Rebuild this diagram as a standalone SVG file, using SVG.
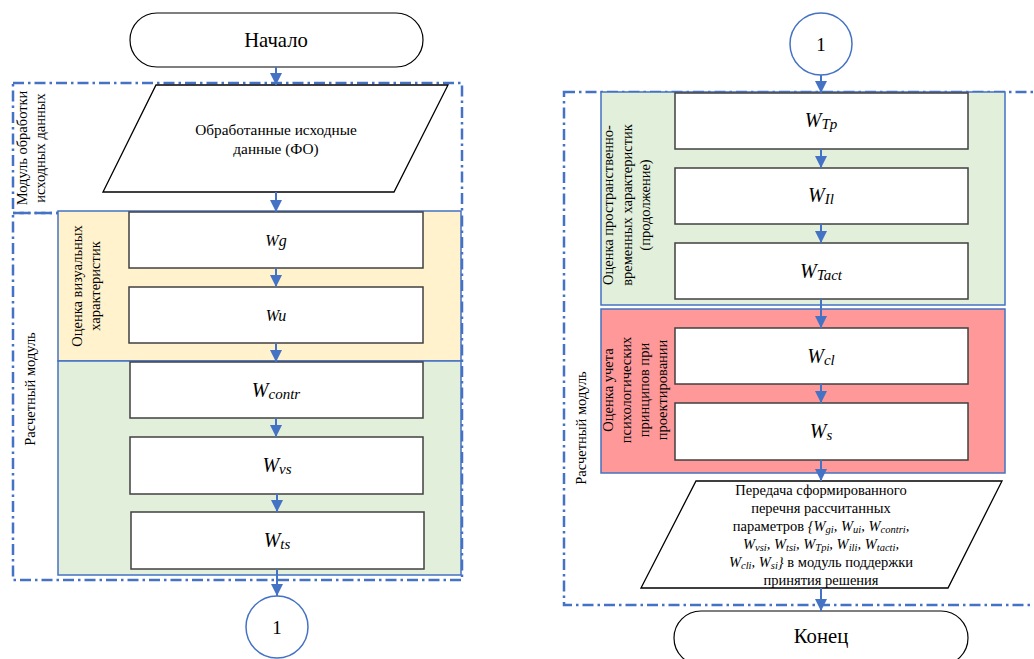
<svg xmlns="http://www.w3.org/2000/svg" width="1034" height="659" viewBox="0 0 1034 659" font-family="Liberation Serif, serif">
<style>
text{font-family:"Liberation Serif",serif;fill:#000}
.t{font-size:20.7px;text-anchor:middle}
.p{font-size:14.5px;text-anchor:middle}
.lab{font-size:14.5px;text-anchor:middle}
.w{font-size:20px;font-style:italic;text-anchor:middle}
.dash{fill:none;stroke:#4472C4;stroke-width:2.5;stroke-dasharray:11 4 2.5 4}
.grp{stroke:#4472C4;stroke-width:1.5}
.box{fill:#fff;stroke:#404040;stroke-width:1.5}
.term{fill:#fff;stroke:#000;stroke-width:1.2}
.par{fill:#fff;stroke:#000;stroke-width:1.3}
.con{fill:#fff;stroke:#4472C4;stroke-width:1.5}
.arr{stroke:#4472C4;stroke-width:2;fill:none;marker-end:url(#ah)}
</style>
<defs>
<marker id="ah" markerUnits="userSpaceOnUse" markerWidth="12" markerHeight="12" viewBox="0 0 12 12" refX="12" refY="6" orient="auto">
<path d="M0,0 L12,6 L0,12 z" fill="#4472C4"/>
</marker>
</defs>

<g id="frames">
<rect class="dash" x="13" y="83" width="449" height="130"/>
<rect class="dash" x="13" y="213" width="449" height="367"/>
<rect class="dash" x="564" y="92" width="500" height="513"/>
</g>

<g id="grp-visual">
<rect class="grp" x="58" y="211" width="403" height="150" fill="#FFF2CC"/>
<text class="lab" transform="translate(82,286) rotate(-90)">Оценка визуальных</text>
<text class="lab" transform="translate(100,286) rotate(-90)">характеристик</text>
</g>
<g id="grp-green-left">
<rect class="grp" x="58" y="361" width="403" height="214" fill="#E2EFDA"/>
</g>
<g id="grp-spatial">
<rect class="grp" x="601" y="92" width="404" height="213" fill="#E2EFDA"/>
<text class="lab" transform="translate(613,205) rotate(-90)">Оценка пространственно-</text>
<text class="lab" transform="translate(632,205) rotate(-90)">временных характеристик</text>
<text class="lab" transform="translate(650,205) rotate(-90)">(продолжение)</text>
</g>
<g id="grp-psych">
<rect class="grp" x="601" y="309" width="404" height="164" fill="#FF9999"/>
<text class="lab" transform="translate(613,390) rotate(-90)">Оценка учета</text>
<text class="lab" transform="translate(631,390) rotate(-90)">психологических</text>
<text class="lab" transform="translate(649,390) rotate(-90)">принципов при</text>
<text class="lab" transform="translate(667,390) rotate(-90)">проектировании</text>
</g>

<g id="module-labels">
<text class="lab" transform="translate(27,148) rotate(-90)">Модуль обработки</text>
<text class="lab" transform="translate(45,148) rotate(-90)">исходных данных</text>
<text class="lab" transform="translate(35,389) rotate(-90)">Расчетный модуль</text>
<text class="lab" transform="translate(586,428) rotate(-90)">Расчетный модуль</text>
</g>

<g id="start">
<rect class="term" x="130" y="13" width="293" height="54" rx="27"/>
<text class="t" x="276" y="47">Начало</text>
</g>
<g id="input">
<polygon class="par" points="156,85 448,85 394,192 103,192"/>
<text class="p" x="276" y="135" style="font-size:15.3px">Обработанные исходные</text>
<text class="p" x="276" y="154" style="font-size:15.3px">данные (ФО)</text>
</g>
<g id="wg">
<rect class="box" x="129" y="212" width="294" height="56"/>
<text class="w" x="276" y="246" style="font-size:16px">Wg</text>
</g>
<g id="wu">
<rect class="box" x="129" y="287" width="294" height="56"/>
<text class="w" x="276" y="321" style="font-size:16px">Wu</text>
</g>
<g id="wcontr">
<rect class="box" x="130" y="362" width="293" height="56"/>
<text class="w" x="276" y="397">W<tspan font-size="15" dy="2">contr</tspan></text>
</g>
<g id="wvs">
<rect class="box" x="130" y="437" width="293" height="57"/>
<text class="w" x="277" y="472">W<tspan font-size="15" dy="2">vs</tspan></text>
</g>
<g id="wts">
<rect class="box" x="131" y="512" width="293" height="57"/>
<text class="w" x="277" y="547">W<tspan font-size="15" dy="2">ts</tspan></text>
</g>
<g id="conn-out">
<circle class="con" cx="277" cy="627" r="31"/>
<text class="t" x="277" y="634" style="font-size:19px">1</text>
</g>

<g id="conn-in">
<circle class="con" cx="821" cy="44" r="31"/>
<text class="t" x="821" y="51" style="font-size:19px">1</text>
</g>
<g id="wtp">
<rect class="box" x="675" y="93" width="293" height="56"/>
<text class="w" x="821" y="127">W<tspan font-size="15" dy="2">Tp</tspan></text>
</g>
<g id="wil">
<rect class="box" x="675" y="168" width="293" height="56"/>
<text class="w" x="821" y="202">W<tspan font-size="15" dy="2">Il</tspan></text>
</g>
<g id="wtact">
<rect class="box" x="675" y="243" width="293" height="56"/>
<text class="w" x="821" y="278">W<tspan font-size="15" dy="2">Tact</tspan></text>
</g>
<g id="wcl">
<rect class="box" x="675" y="328" width="293" height="56"/>
<text class="w" x="821" y="363">W<tspan font-size="15" dy="2">cl</tspan></text>
</g>
<g id="ws">
<rect class="box" x="675" y="403" width="293" height="57"/>
<text class="w" x="821" y="438">W<tspan font-size="15" dy="2">s</tspan></text>
</g>
<g id="output">
<polygon class="par" points="696,481 1002,481 948,588 641,588"/>
<text class="p" x="821" y="495">Передача сформированного</text>
<text class="p" x="821" y="513">перечня рассчитанных</text>
<text class="p" x="821" y="531">параметров <tspan font-style="italic">{W<tspan font-size="10.5" dy="2">gi</tspan><tspan dy="-2">, W</tspan><tspan font-size="10.5" dy="2">ui</tspan><tspan dy="-2">, W</tspan><tspan font-size="10.5" dy="2">contri</tspan><tspan dy="-2">,</tspan></tspan></text>
<text class="p" x="821" y="549" font-style="italic">W<tspan font-size="10.5" dy="2">vsi</tspan><tspan dy="-2">, W</tspan><tspan font-size="10.5" dy="2">tsi</tspan><tspan dy="-2">, W</tspan><tspan font-size="10.5" dy="2">Tpi</tspan><tspan dy="-2">, W</tspan><tspan font-size="10.5" dy="2">ili</tspan><tspan dy="-2">, W</tspan><tspan font-size="10.5" dy="2">tacti</tspan><tspan dy="-2">,</tspan></text>
<text class="p" x="821" y="567"><tspan font-style="italic">W<tspan font-size="10.5" dy="2">cli</tspan><tspan dy="-2">, W</tspan><tspan font-size="10.5" dy="2">si</tspan><tspan dy="-2">}</tspan></tspan> в модуль поддержки</text>
<text class="p" x="821" y="585">принятия решения</text>
</g>
<g id="end">
<rect class="term" x="674" y="611" width="294" height="54" rx="27"/>
<text class="t" x="821" y="643">Конец</text>
</g>

<g id="connectors">
<line class="arr" x1="276" y1="67" x2="276" y2="85"/>
<line class="arr" x1="276" y1="192" x2="276" y2="212"/>
<line class="arr" x1="276" y1="268" x2="276" y2="287"/>
<line class="arr" x1="276" y1="343" x2="276" y2="362"/>
<line class="arr" x1="276" y1="418" x2="276" y2="437"/>
<line class="arr" x1="277" y1="494" x2="277" y2="512"/>
<line class="arr" x1="277" y1="569" x2="277" y2="596"/>
<line class="arr" x1="821" y1="75" x2="821" y2="93"/>
<line class="arr" x1="821" y1="149" x2="821" y2="168"/>
<line class="arr" x1="821" y1="224" x2="821" y2="243"/>
<line class="arr" x1="821" y1="299" x2="821" y2="328"/>
<line class="arr" x1="821" y1="384" x2="821" y2="403"/>
<line class="arr" x1="821" y1="460" x2="821" y2="481"/>
<line class="arr" x1="821" y1="588" x2="821" y2="611"/>
</g>
</svg>
